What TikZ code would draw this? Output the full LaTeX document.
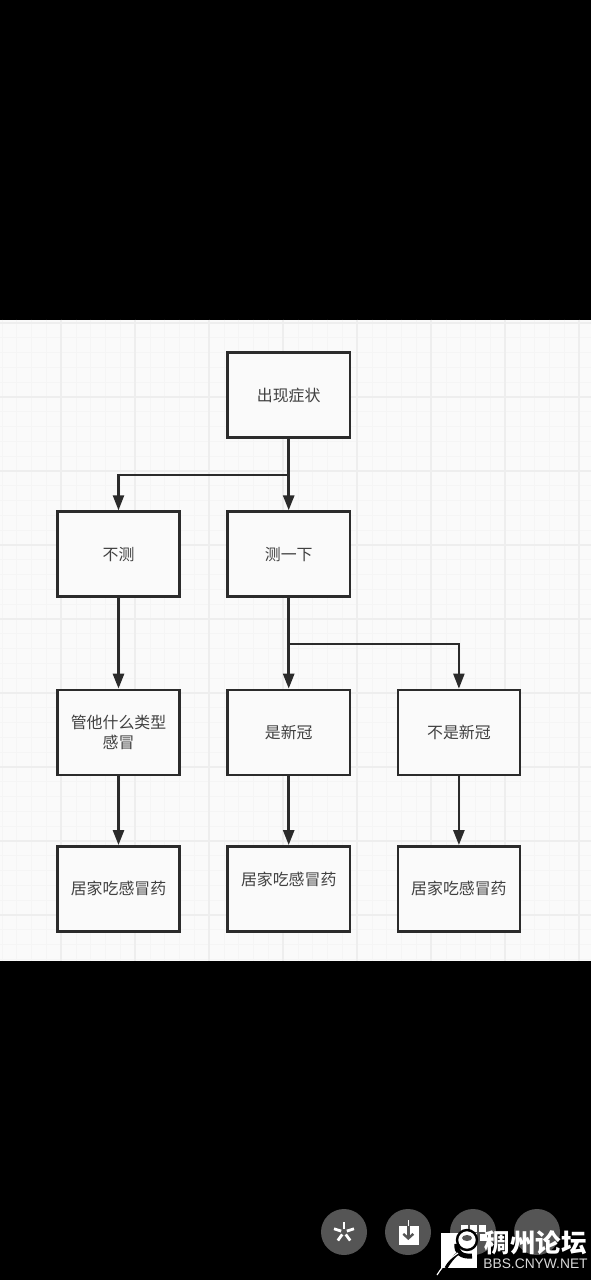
\documentclass[tikz,border=0pt]{standalone}
\usepackage{fontspec}
\setmainfont{Noto Sans CJK SC}
\setsansfont{Liberation Sans}
\usetikzlibrary{arrows.meta,positioning}
\definecolor{paper}{HTML}{FAFAFA}
\definecolor{gridminor}{HTML}{F5F5F5}
\definecolor{gridmajor}{HTML}{EEEEEE}
\definecolor{ink}{HTML}{2B2B2B}
\definecolor{label}{HTML}{404040}
\definecolor{iconbg}{HTML}{555555}
\tikzset{
  stepbox/.style={draw=ink,line width=2.5pt,fill=paper,minimum width=122.3pt,minimum height=85pt,
                  text width=112pt,align=center,text=label,font=\fontsize{15.9pt}{20pt}\selectfont},
  arrow/.style={-{Triangle[length=15pt,width=11pt]},line width=2.7pt,draw=ink},
  branch/.style={-{Triangle[length=15pt,width=11pt]},line width=2.2pt,draw=ink},
  iconbtn/.style={circle,fill=iconbg,minimum size=46pt,inner sep=0pt}
}
\begin{document}
\begin{tikzpicture}[x=1pt,y=-1pt,node distance=71.6pt and 45.4pt]
\useasboundingbox (0,0) rectangle (591,1280);
\fill[black] (0,0) rectangle (591,1280);
\fill[paper] (0,319.5) rectangle (591,960.5);
% background grid
\foreach \x in {2,16.8,...,591} \draw[gridminor,line width=.8pt] (\x,319.5) -- (\x,960.5);
\foreach \y in {323,337.8,...,960} \draw[gridminor,line width=.8pt] (0,\y) -- (591,\y);
\foreach \x in {61,135,...,591} \draw[gridmajor,line width=1.2pt] (\x,319.5) -- (\x,960.5);
\foreach \y in {323,397,...,960} \draw[gridmajor,line width=1.2pt] (0,\y) -- (591,\y);
% flow
\node[stepbox] (start) at (288.7,395) {出现症状};
\node[stepbox,below=of start] (test) {测一下};
\node[stepbox,left=of test] (notest) {不测};
\node[stepbox,below=90.8pt of test] (pos) {是新冠};
\node[stepbox,below=90.8pt of notest] (any) {管他什么类型\\感冒};
\node[stepbox,right=of pos] (neg) {不是新冠};
\node[stepbox,below=68.9pt of any] (medA) {居家吃感冒药};
\node[stepbox,below=68.9pt of pos,text depth=20pt] (medB) {居家吃感冒药};
\node[stepbox,below=68.9pt of neg] (medC) {居家吃感冒药};
\draw[arrow] (start) -- (test);
\draw[branch] (start.south) -- ++(0,36.3) -| (notest.north);
\draw[arrow] (notest) -- (any);
\draw[arrow] (test) -- (pos);
\draw[branch] (test.south) -- ++(0,45.9) -| (neg.north);
\draw[arrow] (any) -- (medA);
\draw[arrow] (pos) -- (medB);
\draw[arrow] (neg) -- (medC);
% buttons
\node[iconbtn] (share) at (344,1232) {};
\node[iconbtn] (save) at (408,1232) {};
\node[iconbtn] (apps) at (473,1232) {};
\node[iconbtn] (more) at (537,1232) {};
\foreach \a in {90,162,234,306,18} \draw[white,line width=2.8pt] ([shift={(\a:3pt)}]share.center) -- ([shift={(\a:10.5pt)}]share.center);
\fill[white] (399,1226) rectangle (419,1245);
\draw[white,line width=1.4pt] (408.3,1220) -- (408.3,1226);
\draw[iconbg,-{Straight Barb[length=4.5pt,width=10pt]},line width=2.4pt] (408.3,1226) -- (408.3,1240);
\foreach \x in {461,470,479} \fill[white] (\x,1225) rectangle ++(7,7);
\fill[white] (480,1234) rectangle ++(7,7);
% logo
\fill[white] (441,1233) rectangle (477,1268);
\fill[white] (467,1240) circle (9pt);
\fill[iconbg] (467,1238) ellipse (5pt and 3pt);
\draw[black,line width=2.4pt] (467,1240) circle (10pt);
\draw[black,line width=5pt] (457,1244) .. controls (456,1252) and (461,1257) .. (472,1256);
\draw[black,line width=3pt] (446,1268) .. controls (450,1261) and (454,1256) .. (460,1252);
\draw[white,line width=1.2pt] (437,1275) .. controls (444,1264) and (450,1258) .. (458,1253);
\node[text=white,inner sep=0pt,font=\fontsize{25.5pt}{26pt}\selectfont\bfseries] (brand) at (535.5,1243) {稠州论坛};
\node[text=white!85!black,inner sep=0pt,font=\sffamily\fontsize{13.8pt}{15pt}\selectfont,below=3pt of brand] (site) {BBS.CNYW.NET};
\end{tikzpicture}
\end{document}
